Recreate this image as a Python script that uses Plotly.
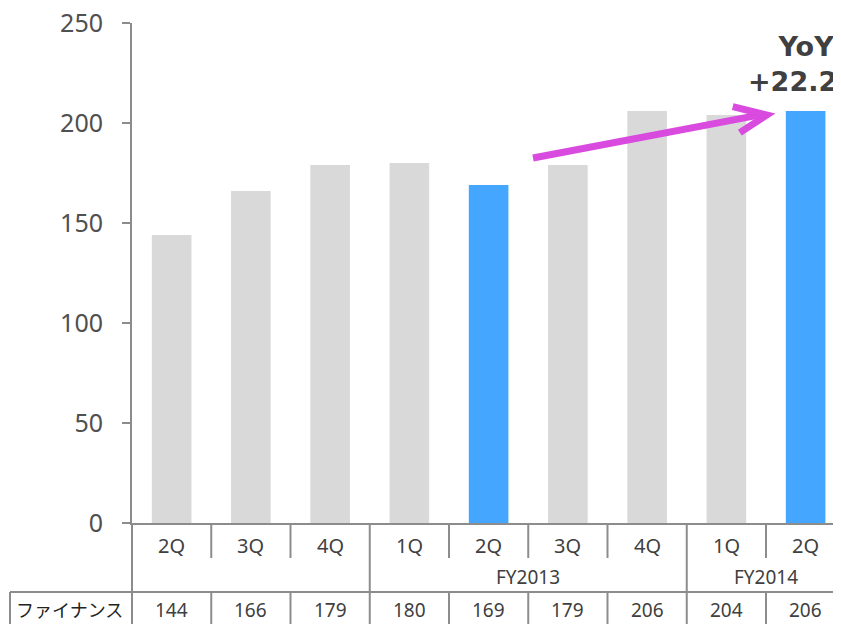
import plotly.graph_objects as go

quarters = ["2Q", "3Q", "4Q", "1Q", "2Q", "3Q", "4Q", "1Q", "2Q"]
values = [144, 166, 179, 180, 169, 179, 206, 204, 206]
highlight = [False, False, False, False, True, False, False, False, True]
fy_labels = ["", "FY2013", "FY2014"]
fy_start = [0, 3, 7]
fy_end = [2, 6, 8]
row_label = "ファイナンス"
yoy_text = "YoY<br>+22.2%"

GREY = "#D9D9D9"
BLUE = "#44A6FF"
LINE = "#8C8C8C"
TXT = "#404040"
FONT = "Noto Sans"

OFF = 8  # default page body margin
W, H = 841 - OFF, 624 - OFF
ML, MR, MT, MB = 132 - OFF, 0, 23 - OFF, 101
xs = list(range(len(values)))
xmin = -0.5
xmax = -0.5 + (W - ML - MR) / 79.25

fig = go.Figure()
fig.add_trace(go.Bar(
    x=xs, y=values, width=0.5,
    marker=dict(color=[BLUE if h else GREY for h in highlight], line=dict(width=0)),
    hoverinfo="skip",
))

pw = W - ML - MR
ph = H - MT - MB


def py(pix):  # page pixel y -> paper y
    return (H - MB - (pix - OFF)) / ph


def px(pix):  # page pixel x -> paper x
    return (pix - OFF - ML) / pw


shapes = []
row1_bot = py(558)
row2_bot = py(592)
bottom = py(640)
shapes.append(dict(type="line", xref="paper", yref="paper", x0=0, x1=0, y0=0, y1=bottom,
                   line=dict(color=LINE, width=2)))
fy_bounds = [e + 0.5 for e in fy_end[:-1]]
for i in range(len(values) - 1):
    b = i + 0.5
    yb = row2_bot if b in fy_bounds else row1_bot
    shapes.append(dict(type="line", xref="x", yref="paper", x0=b, x1=b, y0=0, y1=yb,
                       line=dict(color=LINE, width=2)))
    shapes.append(dict(type="line", xref="x", yref="paper", x0=b, x1=b, y0=row2_bot, y1=bottom,
                       line=dict(color=LINE, width=2)))
shapes.append(dict(type="line", xref="paper", yref="paper", x0=px(10), x1=1.0, y0=row2_bot, y1=row2_bot,
                   line=dict(color=LINE, width=2)))
shapes.append(dict(type="line", xref="paper", yref="paper", x0=px(10), x1=px(10), y0=row2_bot, y1=bottom,
                   line=dict(color=LINE, width=2)))

ARROW = "#D94ADF"
shapes.append(dict(type="path", xref="x", yref="y",
                   path="M 4.56 182.5 L 7.46 204.3",
                   line=dict(color=ARROW, width=7)))
shapes.append(dict(type="path", xref="x", yref="y",
                   path="M 7.08 208.2 L 7.51 204.0 L 7.17 195.2",
                   line=dict(color=ARROW, width=7)))

annotations = []
for i, q in enumerate(quarters):
    annotations.append(dict(x=i, y=py(545), xref="x", yref="paper", text=q, showarrow=False,
                            font=dict(size=20, color=TXT, family=FONT), xanchor="center", yanchor="middle"))
    annotations.append(dict(x=i, y=py(610), xref="x", yref="paper", text=str(values[i]), showarrow=False,
                            font=dict(size=19, color=TXT, family=FONT), xanchor="center", yanchor="middle"))
for lab, s, e in zip(fy_labels, fy_start, fy_end):
    if lab:
        annotations.append(dict(x=(s + e) / 2, y=py(577), xref="x", yref="paper", text=lab, showarrow=False,
                                font=dict(size=19, color=TXT, family=FONT), xanchor="center", yanchor="middle"))
annotations.append(dict(x=px(69), y=py(609), xref="paper", yref="paper", text=row_label, showarrow=False,
                        font=dict(size=18, color="#222222", family="Noto Sans CJK JP"),
                        xanchor="center", yanchor="middle"))
annotations.append(dict(x=8, y=212, xref="x", yref="y", text="<b>" + yoy_text + "</b>", showarrow=False,
                        font=dict(size=27, color=TXT, family="DejaVu Sans"), xanchor="center", yanchor="bottom",
                        align="center"))

fig.update_layout(
    width=W, height=H,
    margin=dict(l=ML, r=MR, t=MT, b=MB, autoexpand=False),
    paper_bgcolor="white", plot_bgcolor="white",
    showlegend=False,
    shapes=shapes,
    annotations=annotations,
    xaxis=dict(range=[xmin, xmax], showticklabels=False, ticks="", showgrid=False, zeroline=False,
               showline=True, linecolor=LINE, linewidth=2, fixedrange=True),
    yaxis=dict(range=[0, 250], tickvals=[0, 50, 100, 150, 200, 250], showgrid=False, zeroline=False,
               showline=True, linecolor=LINE, linewidth=2, ticks="outside", ticklen=8, tickwidth=2,
               tickcolor=LINE, ticklabelstandoff=14, ticklabeloverflow="allow",
               tickfont=dict(size=25, color="#505050", family=FONT), fixedrange=True),
    bargap=0.5,
)

fig.write_html("out.html")
